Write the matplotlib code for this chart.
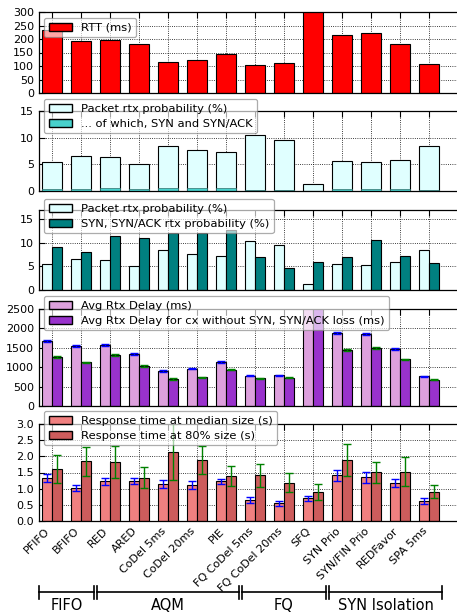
import numpy as np
import matplotlib
matplotlib.use('Agg')
import matplotlib.pyplot as plt
from matplotlib.patches import Patch

schemes = ['PFIFO', 'BFIFO', 'RED', 'ARED', 'CoDel 5ms', 'CoDel 20ms', 'PIE',
           'FQ CoDel 5ms', 'FQ CoDel 20ms', 'SFQ', 'SYN Prio', 'SYN/FIN Prio',
           'REDFavor', 'SPA 5ms']
groups = [('FIFO', 0, 2), ('AQM', 2, 7), ('FQ', 7, 10), ('SYN Isolation', 10, 14)]

rtt = [234, 193, 197, 182, 116, 122, 145, 103, 112, 330, 216, 221, 181, 107]
rtx_prob = [5.45, 6.6, 6.35, 5.1, 8.45, 7.75, 7.3, 10.5, 9.5, 1.3, 5.6, 5.4, 5.9, 8.5]
rtx_prob_syn = [0.3, 0.35, 0.5, 0.45, 0.5, 0.5, 0.55, 0.15, 0.1, 0.05, 0.3, 0.45, 0.3, 0.2]
syn_rtx_prob = [9.1, 8.1, 11.4, 11.0, 12.1, 12.1, 12.7, 7.0, 4.7, 6.0, 7.0, 10.6, 7.2, 5.7]
rtx_delay = [1665, 1545, 1578, 1350, 897, 966, 1130, 778, 787, 2800, 1890, 1855, 1460, 770]
rtx_delay_err = [25, 25, 25, 25, 20, 25, 20, 15, 15, 40, 30, 35, 25, 15]
rtx_delay_nosyn = [1260, 1122, 1310, 1027, 700, 735, 940, 710, 725, 2700, 1450, 1485, 1200, 675]
rtx_delay_nosyn_err = [20, 20, 20, 20, 20, 20, 20, 10, 10, 40, 25, 25, 20, 15]
resp_median = [1.33, 1.02, 1.23, 1.23, 1.14, 1.11, 1.23, 0.65, 0.545, 0.70, 1.41, 1.35, 1.18, 0.62]
resp_median_err = [0.12, 0.08, 0.11, 0.09, 0.12, 0.12, 0.08, 0.08, 0.08, 0.08, 0.17, 0.16, 0.12, 0.1]
resp_80 = [1.60, 1.85, 1.82, 1.34, 2.13, 1.88, 1.39, 1.41, 1.19, 0.89, 1.88, 1.51, 1.53, 0.90]
resp_80_err = [0.44, 0.45, 0.5, 0.32, 0.87, 0.43, 0.3, 0.36, 0.3, 0.25, 0.49, 0.33, 0.46, 0.2]

plt.rcParams['font.family'] = 'DejaVu Sans'
plt.rcParams['font.size'] = 8

W, H = 457, 613
fig = plt.figure(figsize=(W / 100, H / 100), dpi=100)

# panel extents in pixels (top, bottom); axes run past the right edge
panels = [(12, 93), (111, 191), (210, 290), (309, 406), (424, 521)]
left_px, width_px = 39, 435

x = np.arange(len(schemes))
EDGE = dict(edgecolor='black', linewidth=0.8)


def make_axes(top, bottom):
    ax = fig.add_axes([left_px / W, (H - bottom) / H, width_px / W, (bottom - top) / H])
    ax.set_xlim(0, 15)
    ax.set_axisbelow(True)
    ax.grid(True, color='black', linestyle=':', linewidth=0.6)
    ax.set_xticks(x + 0.45)
    ax.tick_params(direction='in', length=4, labelsize=8, top=True, right=True)
    for s in ax.spines.values():
        s.set_linewidth(0.9)
    return ax


def legend(ax, handles, above):
    h = ax.bbox.height
    leg = ax.legend(handles=handles, loc='upper left', fontsize=8.25,
                    bbox_to_anchor=(5 / width_px, 1 + above / h),
                    borderaxespad=0, fancybox=True, framealpha=0.65,
                    labelspacing=0.45)
    leg.get_frame().set_edgecolor('#808080')
    leg.get_frame().set_linewidth(0.9)
    leg.set_zorder(10)


axes = [make_axes(t, b) for t, b in panels]

# RTT
ax = axes[0]
ax.bar(x + 0.1, rtt, 0.7, align='edge', color='red', **EDGE)
ax.set_ylim(0, 300)
ax.set_yticks(range(0, 301, 50))
legend(ax, [Patch(facecolor='red', edgecolor='black', label='RTT (ms)')], -6)

# packet retransmission probability, SYN share at the bottom
ax = axes[1]
ax.bar(x + 0.1, rtx_prob, 0.7, align='edge', color='lightcyan', **EDGE)
ax.bar(x + 0.1, rtx_prob_syn, 0.7, align='edge', color='mediumturquoise',
       edgecolor='#2f6f6c', linewidth=0.5)
ax.set_ylim(0, 15)
ax.set_yticks([0, 5, 10, 15])
legend(ax, [Patch(facecolor='lightcyan', edgecolor='black', label='Packet rtx probability (%)'),
            Patch(facecolor='mediumturquoise', edgecolor='black', label='... of which, SYN and SYN/ACK')], 12)

# packet vs SYN retransmission probability
ax = axes[2]
ax.bar(x + 0.1, rtx_prob, 0.35, align='edge', color='lightcyan', **EDGE)
ax.bar(x + 0.45, syn_rtx_prob, 0.35, align='edge', color='teal', **EDGE)
ax.set_ylim(0, 17)
ax.set_yticks([0, 5, 10, 15])
legend(ax, [Patch(facecolor='lightcyan', edgecolor='black', label='Packet rtx probability (%)'),
            Patch(facecolor='teal', edgecolor='black', label='SYN, SYN/ACK rtx probability (%)')], 11)

# retransmission delay
ax = axes[3]
ax.bar(x + 0.1, rtx_delay, 0.35, align='edge', color='plum', **EDGE)
ax.bar(x + 0.45, rtx_delay_nosyn, 0.35, align='edge', color='darkorchid', **EDGE)
ax.errorbar(x + 0.275, rtx_delay, yerr=rtx_delay_err, fmt='none', ecolor='blue',
            elinewidth=1, capsize=3, capthick=1)
ax.errorbar(x + 0.625, rtx_delay_nosyn, yerr=rtx_delay_nosyn_err, fmt='none', ecolor='green',
            elinewidth=1, capsize=3, capthick=1)
ax.set_ylim(0, 2500)
ax.set_yticks(range(0, 2501, 500))
legend(ax, [Patch(facecolor='plum', edgecolor='black', label='Avg Rtx Delay (ms)'),
            Patch(facecolor='darkorchid', edgecolor='black',
                  label='Avg Rtx Delay for cx without SYN, SYN/ACK loss (ms)')], 13)

# response times
ax = axes[4]
ax.bar(x + 0.1, resp_median, 0.35, align='edge', color='lightcoral', **EDGE)
ax.bar(x + 0.45, resp_80, 0.35, align='edge', color='indianred', **EDGE)
ax.errorbar(x + 0.275, resp_median, yerr=resp_median_err, fmt='none', ecolor='blue',
            elinewidth=1, capsize=3, capthick=1)
ax.errorbar(x + 0.625, resp_80, yerr=resp_80_err, fmt='none', ecolor='green',
            elinewidth=1, capsize=3, capthick=1)
ax.set_ylim(0, 3)
ax.set_yticks(np.arange(0, 3.01, 0.5))
ax.set_yticklabels(['%.1f' % v for v in np.arange(0, 3.01, 0.5)])
legend(ax, [Patch(facecolor='lightcoral', edgecolor='black', label='Response time at median size (s)'),
            Patch(facecolor='indianred', edgecolor='black', label='Response time at 80% size (s)')], 13)

for ax in axes[:-1]:
    ax.set_xticklabels([])
axes[-1].set_xticklabels(schemes, rotation=45, ha='right', fontsize=8)

# scheme group brackets under the bottom panel
ax = axes[-1]
tr = ax.get_xaxis_transform()
hgt = ax.bbox.height
yb = -(592 - 521) / hgt
tick = 6.5 / hgt
for name, i0, i1 in groups:
    a, b = i0, i1 - 0.1
    ax.plot([a, b], [yb, yb], color='black', lw=1.2, transform=tr, clip_on=False)
    for xe in (a, b):
        ax.plot([xe, xe], [yb - tick, yb + tick], color='black', lw=1.2,
                transform=tr, clip_on=False)
    ax.text((a + b) / 2, yb - 6 / hgt, name, transform=tr, ha='center', va='top',
            fontsize=10.5)

fig.savefig('out.png', dpi=100)
